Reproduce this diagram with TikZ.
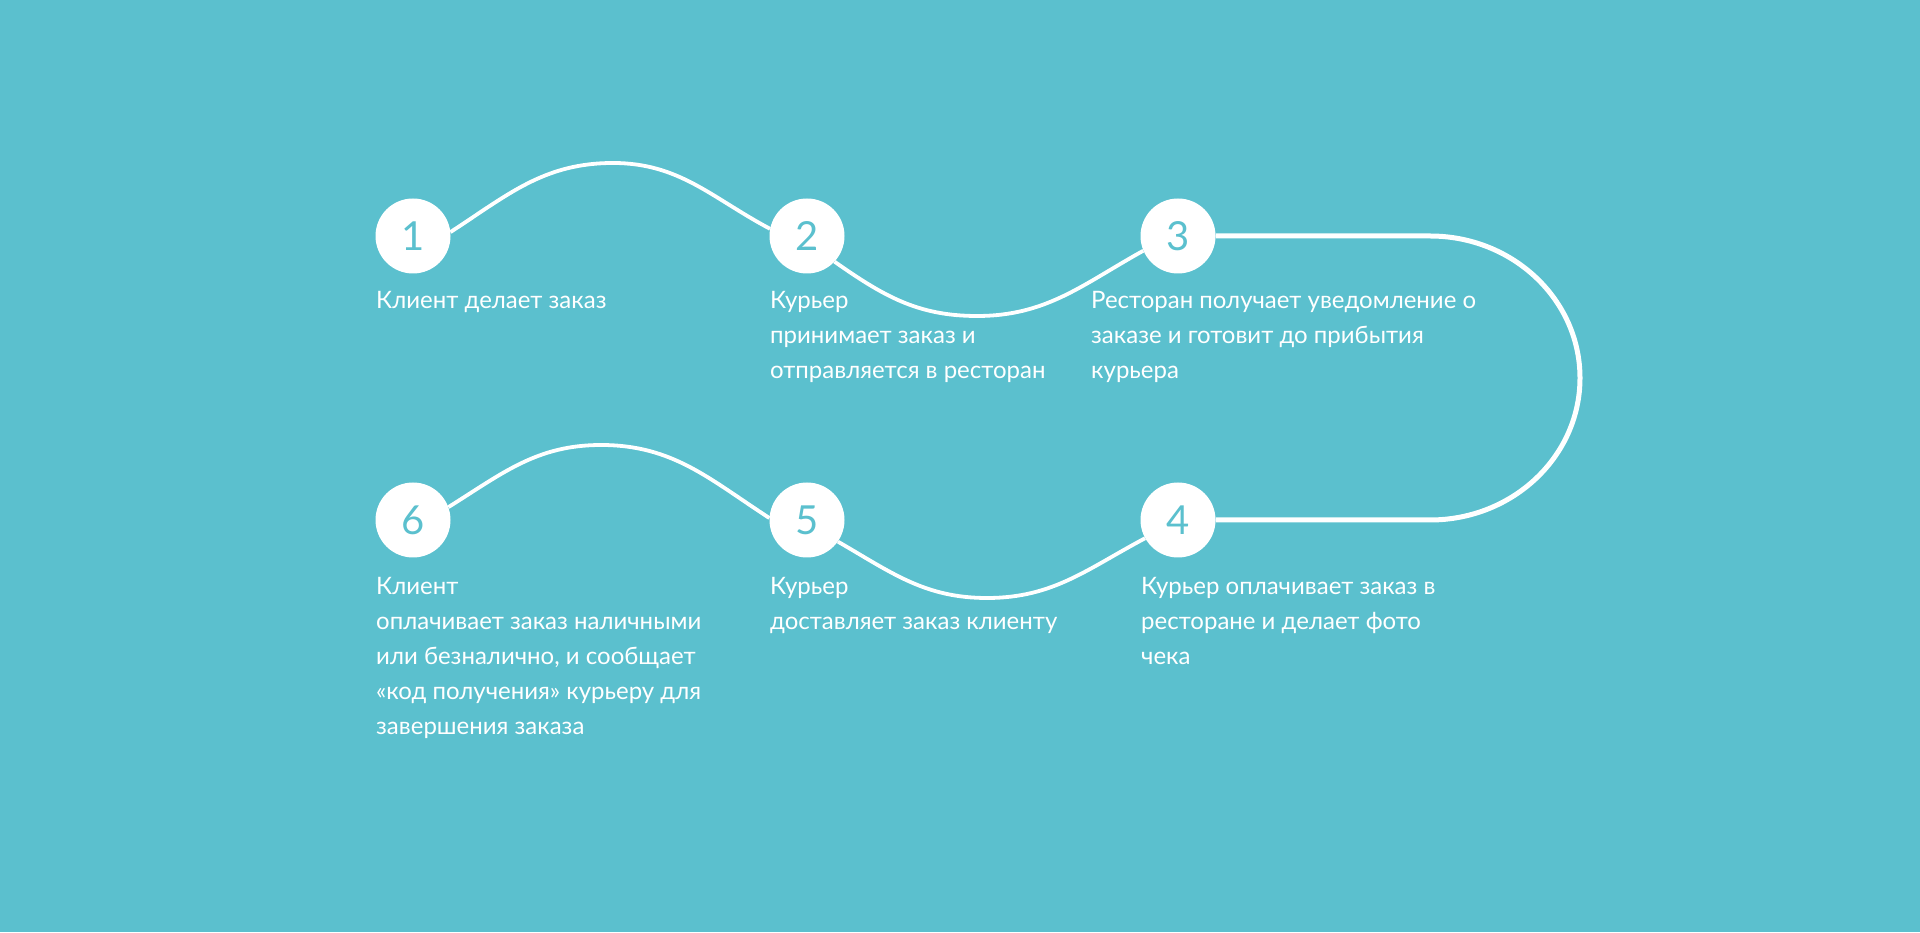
\documentclass[tikz,border=0pt]{standalone}
\usepackage{fontspec}
\setmainfont{Lato}
\usepackage{tikz}
\usetikzlibrary{calc}
\definecolor{sea}{RGB}{91,192,206}
\pgfdeclarelayer{paper}
\pgfdeclarelayer{road}
\pgfsetlayers{paper,road,main}

\begin{document}
\begin{tikzpicture}[x=1pt, y=1pt,
    stepdot/.style={circle, fill=white, inner sep=0pt, minimum size=75pt, text=sea, font=\fontsize{40}{40}\selectfont},
    steptext/.style={anchor=base west, align=left, inner sep=0pt, text=white, font=\fontsize{24}{35}\selectfont},
    wave/.style={white, line width=3.8pt},
    loop/.style={white, line width=5pt}]
    \begin{pgfonlayer}{paper}
    \fill[sea] (0,0) rectangle (1920,932);
    \end{pgfonlayer}
    \useasboundingbox (0,0) rectangle (1920,932);

    \node[stepdot] (s1) at (413,696) {1};
    \node[stepdot] (s2) at (807,696) {2};
    \node[stepdot] (s3) at (1178,696) {3};
    \node[stepdot] (s4) at (1178,412) {4};
    \node[stepdot] (s5) at (807,412) {5};
    \node[stepdot] (s6) at (413,412) {6};

    \coordinate (p12) at (613,769);
    \coordinate (p23) at (977,616);
    \coordinate (p65) at (601,487);
    \coordinate (p54) at (987,334);
    \coordinate (c3) at (1430,696);

    % the road, under the dots
    \begin{pgfonlayer}{road}
    \draw[wave] (s1.6) to[out=33,in=180] (p12) to[out=0,in=152] (s2.169);
    \draw[wave] (s2.-43) to[out=-35,in=180] (p23) to[out=0,in=209] (s3.203);
    \draw[wave] (s6.20) to[out=32,in=180] (p65) to[out=0,in=147] (s5.177);
    \draw[wave] (s5.-35) to[out=-30,in=180] (p54) to[out=0,in=208] (s4.209);
    \draw[loop] (s3.east) -- (c3) arc[start angle=90, end angle=-90, x radius=150, y radius=142] -- (s4.east);
    \end{pgfonlayer}

    % base west sits on the last line
    \node[steptext] (l1) at (376,623) {Клиент делает заказ};
    \node[steptext] (l2) at (770,553) {Курьер\\принимает заказ и\\отправляется в ресторан};
    \node[steptext] (l3) at (1091,553) {Ресторан получает уведомление о\\заказе и готовит до прибытия\\курьера};
    \node[steptext] (l4) at (1141,267.5) {Курьер оплачивает заказ в\\ресторане и делает фото\\чека};
    \node[steptext] (l5) at (770,302.5) {Курьер\\доставляет заказ клиенту};
    \node[steptext] (l6) at (376,197.5) {Клиент\\оплачивает заказ наличными\\или безналично, и сообщает\\«код получения» курьеру для\\завершения заказа};
\end{tikzpicture}
\end{document}
